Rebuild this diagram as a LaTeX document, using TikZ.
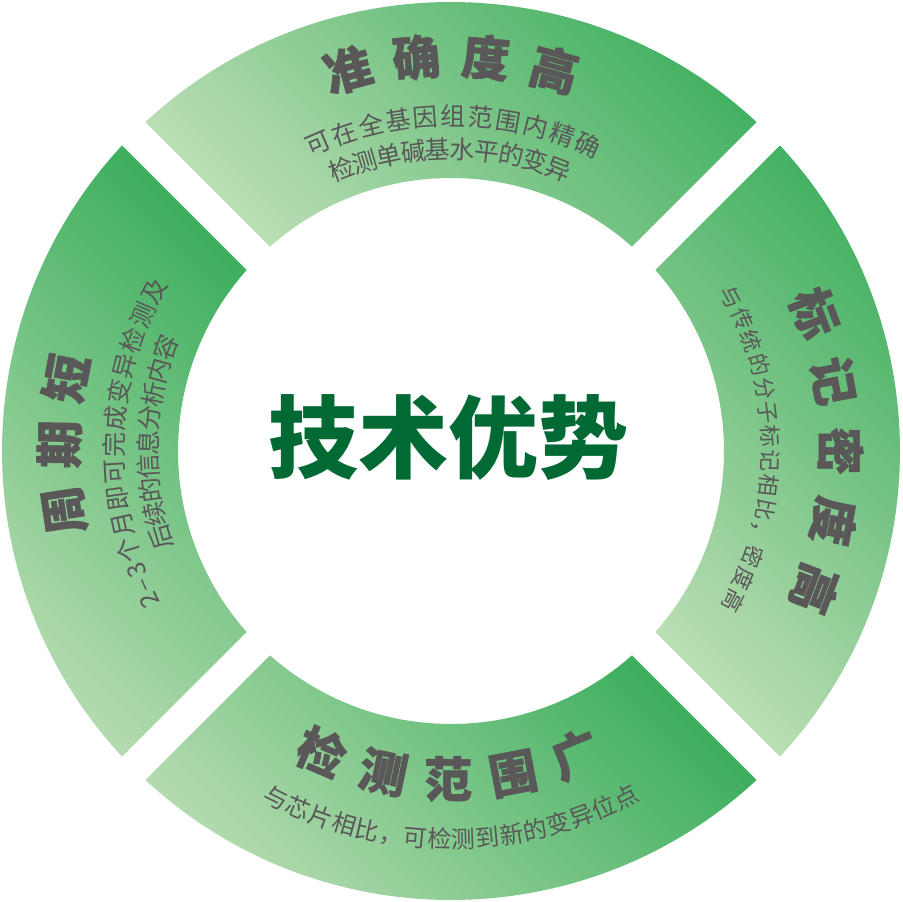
\documentclass[tikz,border=0pt]{standalone}
\usepackage{fontspec}
\newfontfamily\cjk{Noto Sans CJK SC}
\newfontfamily\cjkheavy[BoldFeatures={FakeBold=1.2}]{Noto Sans CJK SC}
\definecolor{gdark}{RGB}{62,175,94}
\definecolor{glight}{RGB}{186,221,180}
\definecolor{titlegray}{RGB}{89,87,87}
\definecolor{centergreen}{RGB}{0,105,52}
\tikzset{
  seg/.style={bottom color=glight, top color=gdark, shading angle=-45},
  segtitle/.style={font=\cjkheavy\bfseries\fontsize{48}{48}\selectfont, text=titlegray, inner sep=0pt},
  segsub/.style={font=\cjk\fontsize{25}{25}\selectfont, text=titlegray, inner sep=0pt},
  segsubmid/.style={font=\cjk\fontsize{24}{24}\selectfont, text=titlegray, inner sep=0pt},
  segsubsmall/.style={font=\cjk\fontsize{22}{22}\selectfont, text=titlegray, inner sep=0pt},
  maintitle/.style={font=\cjk\bfseries\fontsize{90}{90}\selectfont, text=centergreen, inner sep=0pt}
}
% characters along an arc, clockwise, tops pointing outward
\newcommand\cwline[6]{%
  \foreach \ch [count=\i from 0] in {#6} {%
    \pgfmathsetmacro\ang{#3-\i*(#4)}%
    \pgfmathsetmacro\rot{\ang-90}%
    \node[#5, anchor=base, rotate=\rot] (#1-\i) at (\ang:#2) {\ch};%
  }}
% characters along an arc, counter-clockwise, tops pointing inward
\newcommand\ccwline[6]{%
  \foreach \ch [count=\i from 0] in {#6} {%
    \pgfmathsetmacro\ang{#3+\i*(#4)}%
    \pgfmathsetmacro\rot{\ang+90}%
    \node[#5, anchor=base, rotate=\rot] (#1-\i) at (\ang:#2) {\ch};%
  }}
\begin{document}
\begin{tikzpicture}[x=1pt,y=1pt]
\useasboundingbox (-451,-451) rectangle (452,451);
% ring segments
\foreach \b in {0,90,180,270} {
  \pgfmathsetmacro\oa{\b+47.11}
  \pgfmathsetmacro\ob{\b+132.89}
  \pgfmathsetmacro\ia{\b+131.54}
  \pgfmathsetmacro\ib{\b+48.47}
  \shade[seg] (\oa:449) arc[start angle=\oa, end angle=\ob, radius=449]
    -- (\ia:273) arc[start angle=\ia, end angle=\ib, radius=273] -- cycle;
}
% centre
\node[maintitle, anchor=base] (main) at (-2,-21) {技术优势};
% top
\cwline{tt}{376.8}{105.15}{10.1}{segtitle}{准,确,度,高}
\cwline{ta}{325.5}{113.3}{4.74}{segsub}{可,在,全,基,因,组,范,围,内,精,确}
\cwline{tb}{292.5}{111.21}{4.68}{segsub}{检,测,单,碱,基,水,平,的,变,异}
% right
\cwline{rt}{370.8}{20.8}{10.4}{segtitle}{标,记,密,度,高}
\cwline{rs}{311.6}{28.8}{4.37}{segsubsmall}{与,传,统,的,分,子,标,记,相,比,，,密,度,高}
% left
\cwline{lt}{373.8}{188.7}{9.7}{segtitle}{周,期,短}
\cwline{ln}{327.5}{206.4}{2.8}{segsub}{2,–,3}
\cwline{la}{327.5}{197.2}{4.55}{segsub}{个,月,即,可,完,成,变,异,检,测,及}
\cwline{lb}{293.5}{196.6}{4.56}{segsub}{后,续,的,信,息,分,析,内,容}
% bottom
\ccwline{bt}{346.2}{246.7}{11.4}{segtitle}{检,测,范,围,广}
\ccwline{bs}{397.1}{243.3}{3.57}{segsubmid}{与,芯,片,相,比,，,可,检,测,到,新,的,变,异,位,点}
\end{tikzpicture}
\end{document}
